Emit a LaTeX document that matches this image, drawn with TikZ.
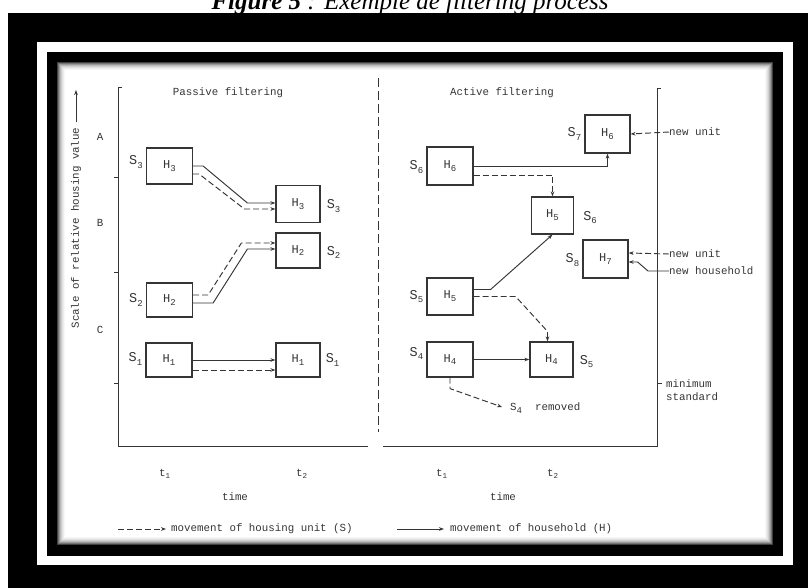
\documentclass[tikz,border=0pt]{standalone}
\usepackage{fontspec}
\setmainfont{Liberation Serif}
\newfontfamily\lettering{Liberation Mono}
\usetikzlibrary{arrows.meta,calc}
\definecolor{ink}{HTML}{353535}
\newcommand\hsub[2]{#1\raisebox{-0.45ex}{\fontsize{9}{9}\selectfont #2}}
\begin{document}
\begin{tikzpicture}[x=1pt,y=-1pt,
  ln/.style={draw=ink, line width=0.95pt},
  hh/.style={ln, -{Stealth[length=5pt,width=3.6pt]}},
  ss/.style={hh, dash pattern=on 6pt off 3pt},
  bx/.style={draw=ink, line width=1.2pt, minimum width=46pt, minimum height=36pt,
    inner sep=0pt, text=ink, font=\lettering\fontsize{12}{12}\selectfont},
  sbx/.style={bx, minimum width=42pt},
  tx/.style={text=ink, inner sep=0pt, font=\lettering\fontsize{10.8}{12.5}\selectfont},
  sl/.style={tx, font=\lettering\fontsize{13.5}{13.5}\selectfont}]
\useasboundingbox (0,0) rectangle (808,588);
\fill[white] (0,0) rectangle (808,588);
% title (cut off at the top, as in the source)
\node[anchor=base, inner sep=0pt, font=\fontsize{25}{25}\selectfont\itshape] (title) at (410,9.5)
  {\textbf{Figure 5} : Exemple de filtering process};
% frame
\fill[black] (8,13) rectangle (808,588);
\fill[white] (37,42) rectangle (793,565);
\fill[black] (47,52) rectangle (783,556);
\fill[white] (57,62) rectangle (773,545);
\foreach \i/\c in {0.5/75,1.5/55,2.5/40,3.5/28,4.5/19,5.5/12,6.5/7,7.5/3}
  \draw[black!\c, line width=1pt] (57+\i,62+\i) rectangle (773-\i,545-\i);
% axes
\draw[ln] (122,87) -- (118,87) -- (118,446) -- (368,446);
\draw[ln] (383,446) -- (657,446) -- (657,88) -- (661,88);
\foreach \y in {177,272,383} \draw[ln] (114,\y) -- (118,\y);
\draw[ln] (657,383) -- (662,383);
\draw[ln, dash pattern=on 9pt off 4pt] (378,78) -- (378,432);
% y label
\node[tx, rotate=90] (ylab) at (76,228) {Scale of relative housing value};
\coordinate (ytop) at (76,90);
\draw[hh] ($(ylab.east)+(0,-5)$) -- (ytop);
\node[tx] (A) at (100,137) {A};
\node[tx] (B) at (100,223) {B};
\node[tx] (C) at (100,330) {C};
% headings
\node[tx] (pf) at (228,93) {Passive filtering};
\node[tx] (af) at (502,93) {Active filtering};
% ---- passive boxes
\node[bx] (b3a) at (169.5,166) {\hsub{H}{3}};
\node[bx, minimum width=44pt, minimum height=37pt] (b3b) at (298,204) {\hsub{H}{3}};
\node[bx, minimum width=44pt, minimum height=35pt] (b2b) at (298,250.5) {\hsub{H}{2}};
\node[bx, minimum height=34pt] (b2a) at (169.5,300) {\hsub{H}{2}};
\node[bx, minimum height=34pt] (b1a) at (169,360) {\hsub{H}{1}};
\node[bx, minimum width=44pt, minimum height=34pt] (b1b) at (298,360) {\hsub{H}{1}};
\node[sl, anchor=east] (s3a) at ($(b3a.west)+(-3,-4)$) {\hsub{S}{3}};
\node[sl, anchor=west] (s3b) at ($(b3b.east)+(6,2)$) {\hsub{S}{3}};
\node[sl, anchor=west] (s2b) at ($(b2b.east)+(6,2)$) {\hsub{S}{2}};
\node[sl, anchor=east] (s2a) at ($(b2a.west)+(-3,0)$) {\hsub{S}{2}};
\node[sl, anchor=east] (s1a) at ($(b1a.west)+(-3,-1)$) {\hsub{S}{1}};
\node[sl, anchor=west] (s1b) at ($(b1b.east)+(5,0)$) {\hsub{S}{1}};
% passive connectors
\draw[hh] (b3a.east) -- ++(10,0) -- ($(b3b.west)+(-28,-1)$) -- ($(b3b.west)+(0,-1)$);
\draw[ss] ($(b3a.east)+(0,8)$) -- ++(6,0) -- ($(b3b.west)+(-31,5)$) -- ($(b3b.west)+(0,5)$);
\draw[ss] ($(b2a.east)+(0,-5)$) -- ++(15,0) -- ($(b2b.west)+(-34,-7.5)$) -- ($(b2b.west)+(0,-7.5)$);
\draw[hh] ($(b2a.east)+(0,3)$) -- ++(20,0) -- ($(b2b.west)+(-28,-1.5)$) -- ($(b2b.west)+(0,-1.5)$);
\draw[hh] (b1a.east) -- (b1b.west);
\draw[ss] ($(b1a.east)+(0,10)$) -- ($(b1b.west)+(0,10)$);
% ---- active boxes
\node[bx, minimum width=45pt, minimum height=38pt] (b7) at (607.5,134) {\hsub{H}{6}};
\node[bx, minimum height=38pt] (b6a) at (450,166) {\hsub{H}{6}};
\node[sbx, minimum height=37pt] (b5b) at (552.5,215.5) {\hsub{H}{5}};
\node[bx, minimum width=45pt, minimum height=38pt] (b8) at (605.5,259) {\hsub{H}{7}};
\node[bx, minimum height=37pt] (b5a) at (450,296.5) {\hsub{H}{5}};
\node[bx, minimum height=35pt] (b4a) at (450,359.5) {\hsub{H}{4}};
\node[sbx, minimum width=43pt, minimum height=35pt] (b4b) at (551.5,359.5) {\hsub{H}{4}};
\node[sl, anchor=east] (s7) at ($(b7.west)+(-3,0)$) {\hsub{S}{7}};
\node[sl, anchor=east] (s6a) at ($(b6a.west)+(-3,1)$) {\hsub{S}{6}};
\node[sl, anchor=west] (s6b) at ($(b5b.east)+(9,2)$) {\hsub{S}{6}};
\node[sl, anchor=east] (s8) at ($(b8.west)+(-3,1)$) {\hsub{S}{8}};
\node[sl, anchor=east] (s5a) at ($(b5a.west)+(-3,0)$) {\hsub{S}{5}};
\node[sl, anchor=east] (s4a) at ($(b4a.west)+(-3,-6)$) {\hsub{S}{4}};
\node[sl, anchor=west] (s5b) at ($(b4b.east)+(6,2)$) {\hsub{S}{5}};
% active connectors
\draw[hh] (b6a.east) -| (b7.south);
\draw[ss] ($(b6a.east)+(0,9)$) -| (b5b.north);
\draw[hh] ($(b5a.east)+(0,-7)$) -- ++(17,0) -- (b5b.south);
\draw[ss] (b5a.east) -- ++(42,0) -- ($(b4b.north)+(-4,-10)$) -- ($(b4b.north)+(-4,0)$);
\draw[hh] (b4a.east) -- (b4b.west);
\node[tx, anchor=west] (rem) at (510,408) {\hsub{S}{4}\ \ removed};
\draw[ss] (b4a.south) -- ++(0,11) -- ($(rem.west)+(-8,-1)$);
% new unit / household
\node[tx, anchor=west] (nu1) at (669,132) {new unit};
\node[tx, anchor=west] (nu2) at (669,254) {new unit};
\node[tx, anchor=west] (nh) at (669,271) {new household};
\node[tx, anchor=west, align=left] (ms) at (666,390) {minimum\\standard};
\draw[ss] (nu1.west) -- (b7.east);
\draw[ss] (nu2.west) -- ($(b8.east)+(0,-6)$);
\draw[hh] (nh.west) -- ++(-21,0) -- ($(b8.east)+(9,3)$) -- ($(b8.east)+(0,3)$);
% time labels
\node[tx] (t1l) at (165,474) {t\textsubscript{1}};
\node[tx] (t2l) at (302,474) {t\textsubscript{2}};
\node[tx] (timel) at (235,497) {time};
\node[tx] (t1r) at (442,474) {t\textsubscript{1}};
\node[tx] (t2r) at (553,474) {t\textsubscript{2}};
\node[tx] (timer) at (503,497) {time};
% legend
\coordinate (lg1a) at (118,529);
\node[tx, anchor=west] (lg1) at (171,529) {movement of housing unit (S)};
\draw[ss] (lg1a) -- ($(lg1.west)+(-5,0)$);
\coordinate (lg2a) at (397,529);
\node[tx, anchor=west] (lg2) at (450,529) {movement of household (H)};
\draw[hh] (lg2a) -- ($(lg2.west)+(-6,0)$);
\end{tikzpicture}
\end{document}
